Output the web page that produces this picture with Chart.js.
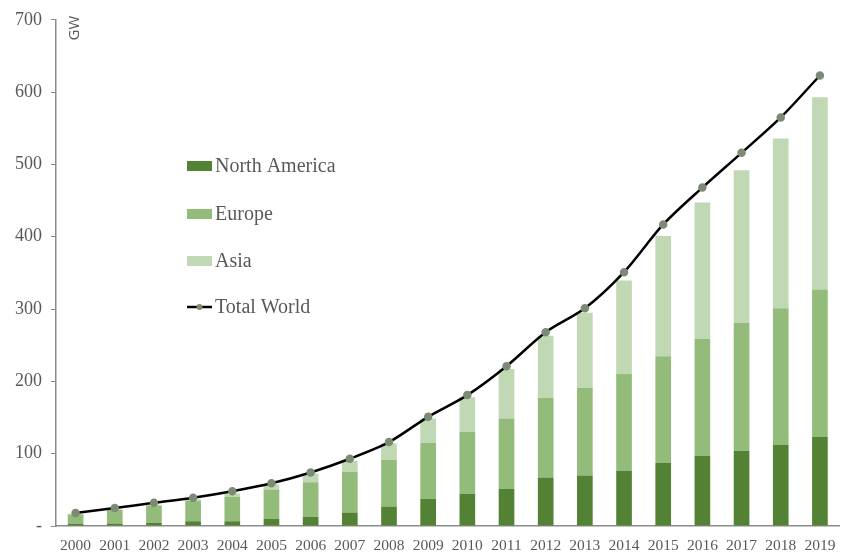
<!DOCTYPE html>
<html>
<head>
<meta charset="utf-8">
<script src="https://cdn.jsdelivr.net/npm/chart.js@4/dist/chart.umd.min.js"></script>
<style>
  html, body { margin: 0; padding: 0; background: #fff; }
  #wrap { width: 846px; height: 556px; }
</style>
</head>
<body>
<div id="wrap"><canvas id="chart" width="846" height="556"></canvas></div>
<script>
const years = ['2000','2001','2002','2003','2004','2005','2006','2007','2008','2009',
               '2010','2011','2012','2013','2014','2015','2016','2017','2018','2019'];
const northAmerica = [2.7, 3.6, 4.5, 6.5, 6.4, 9.6, 12.7, 18.7, 27, 37.8, 44.6, 51.5, 67, 70, 76, 87, 97, 104, 112, 123.5];
const europe = [13.3, 18.4, 23.5, 28.5, 34.2, 41, 47.9, 56.3, 64.6, 77.2, 85.4, 97.1, 110, 121, 134.5, 147.7, 162, 177, 189, 203.5];
const asia = [0.8, 1.2, 1.5, 2, 4.4, 6.8, 11.9, 15, 22.4, 33.6, 48, 68.4, 86, 104, 129, 166.3, 188.5, 211, 235, 266];
const totalWorld = [18, 25, 32, 39, 48, 59, 74, 93, 116, 151, 181, 221, 268, 301, 351, 417, 468, 516, 565, 623];
const yTicks = [0, 100, 200, 300, 400, 500, 600, 700];

const textColor = '#595959';
const axisColor = '#8c8c8c';
const serif = "'Liberation Serif', 'Times New Roman', serif";

// legend drawn inside the plot, top-left
const insideLegend = {
    id: 'insideLegend',
    afterDraw(chart) {
        const ctx = chart.ctx;
        const x = 187, rows = [166, 214, 261, 307];
        ctx.save();
        ctx.font = '20px ' + serif;
        ctx.fillStyle = textColor;
        ctx.textBaseline = 'middle';
        chart.data.datasets.forEach((ds, i) => {
            const y = rows[i];
            if (ds.type === 'line') {
                ctx.strokeStyle = ds.borderColor;
                ctx.lineWidth = 2.5;
                ctx.beginPath();
                ctx.moveTo(x, y);
                ctx.lineTo(x + 25, y);
                ctx.stroke();
                ctx.fillStyle = ds.pointBackgroundColor;
                ctx.beginPath();
                ctx.arc(x + 12.5, y, 3, 0, Math.PI * 2);
                ctx.fill();
            } else {
                ctx.fillStyle = ds.backgroundColor;
                ctx.fillRect(x, y - 5, 25, 10);
            }
            ctx.fillStyle = textColor;
            ctx.fillText(ds.label, x + 28, y + 1);
        });
        // unit label
        ctx.translate(75, 28);
        ctx.rotate(-Math.PI / 2);
        ctx.font = "15px 'Open Sans', sans-serif";
        ctx.textAlign = 'center';
        ctx.fillText('GW', 0, 0);
        ctx.restore();
    }
};

const ctx = document.getElementById('chart').getContext('2d');
new Chart(ctx, {
    data: {
        labels: years,
        datasets: [
            { type: 'bar', label: 'North America', data: northAmerica, backgroundColor: '#548235', stack: 'bars', order: 1 },
            { type: 'bar', label: 'Europe', data: europe, backgroundColor: '#93bc7b', stack: 'bars', order: 1 },
            { type: 'bar', label: 'Asia', data: asia, backgroundColor: '#c0d8b3', stack: 'bars', order: 1 },
            {
                type: 'line', label: 'Total World', data: totalWorld, stack: 'line', order: 0,
                borderColor: '#000000', borderWidth: 2.5,
                pointBackgroundColor: '#7d8a74', pointBorderColor: '#7d8a74',
                pointRadius: 3, tension: 0.3
            }
        ]
    },
    options: {
        responsive: false,
        animation: false,
        layout: { padding: { top: 14, right: 3, left: 0, bottom: 0 } },
        datasets: { bar: { barPercentage: 0.4, categoryPercentage: 1 } },
        plugins: { legend: { display: false }, tooltip: { enabled: false } },
        scales: {
            x: {
                stacked: true,
                grid: { display: false },
                border: { color: axisColor, width: 1.5 },
                ticks: { color: textColor, font: { family: serif, size: 15.5 }, maxRotation: 0, padding: 3 },
                afterFit(scale) { scale.height = 30; }
            },
            y: {
                stacked: true,
                min: 0, max: 700,
                afterBuildTicks(scale) { scale.ticks = yTicks.map(v => ({ value: v })); },
                grid: { drawOnChartArea: false, tickLength: 5, color: axisColor },
                border: { color: axisColor, width: 1.5 },
                ticks: {
                    color: textColor, font: { family: serif, size: 18 }, padding: 9,
                    callback: v => v === 0 ? '-' : v
                },
                afterFit(scale) { scale.width = 56; }
            }
        }
    },
    plugins: [insideLegend]
});
</script>
</body>
</html>
